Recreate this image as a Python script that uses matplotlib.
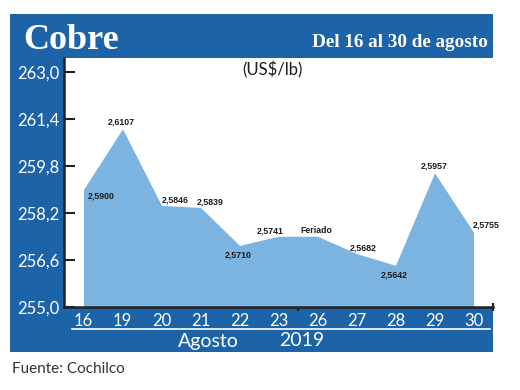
import matplotlib
matplotlib.use("Agg")
import matplotlib.pyplot as plt
from matplotlib.patches import Rectangle
from matplotlib.lines import Line2D
from matplotlib.ticker import FixedLocator, FuncFormatter
from matplotlib import font_manager

# ---- data ----
days = ["16", "19", "20", "21", "22", "23", "26", "27", "28", "29", "30"]
prices = [2.5900, 2.6107, 2.5846, 2.5839, 2.5710, 2.5741, 2.5741, 2.5682, 2.5642, 2.5957, 2.5755]
point_labels = ["2,5900", "2,6107", "2,5846", "2,5839", "2,5710", "2,5741", "Feriado",
                "2,5682", "2,5642", "2,5957", "2,5755"]
y_ticks = [255.0, 256.6, 258.2, 259.8, 261.4, 263.0]
scale = 100  # axis shows cents x 100

W, H = 520, 390
fig = plt.figure(figsize=(W / 100, H / 100), dpi=100)
fig.patch.set_facecolor("white")

def fx(px):
    return px / W

def fy(py):
    return 1 - py / H

BLUE = "#1d63a7"
AREA = "#7bb4e1"
sans = ["Lato", "DejaVu Sans"]
installed = {f.name for f in font_manager.fontManager.ttflist}
if "Liberation Sans Narrow" in installed:
    narrow = ["Liberation Sans Narrow", "DejaVu Sans"]
    nsize = 7
else:
    narrow = ["Liberation Sans", "DejaVu Sans"]
    nsize = 6.3

# frame
fig.add_artist(Rectangle((fx(10), fy(352)), fx(483), 338 / H, transform=fig.transFigure,
                         facecolor=BLUE, edgecolor="none", zorder=0))

# axes
ax = fig.add_axes([fx(64), fy(307), fx(429), 249 / H])
ax.set_facecolor("white")
x = list(range(len(days)))
yv = [p * scale for p in prices]
ax.fill_between(x, yv, 255.0, color=AREA, linewidth=0, zorder=2)
ax.set_xlim(-0.5, len(days) - 0.5)
ax.set_ylim(255.0, 263.48)

ax.yaxis.set_major_locator(FixedLocator(y_ticks))
ax.yaxis.set_major_formatter(FuncFormatter(lambda v, p: f"{v:.1f}".replace(".", ",")))
ax.tick_params(axis="y", direction="in", length=8, width=1.5, color="#222222",
               labelcolor="white", labelsize=12, pad=3)
for t in ax.get_yticklabels():
    t.set_family(sans)

ax.set_xticks(x)
ax.set_xticklabels(days)
ax.tick_params(axis="x", length=0, labelcolor="white", labelsize=12, pad=4)
for t in ax.get_xticklabels():
    t.set_family(sans)
ax.set_xticks([5.5, 10.5], minor=True)
ax.tick_params(axis="x", which="minor", direction="inout", length=6, width=1.5, color="#222222")

for s in ["top", "right"]:
    ax.spines[s].set_visible(False)
for s in ["left", "bottom"]:
    ax.spines[s].set_linewidth(1.8)
    ax.spines[s].set_color("#222222")

# point labels (offsets in points)
offsets = [(13, -5), (-1, 5), (10, 4), (7, 4), (-1, -7), (-6, 4), (-1, 4),
           (5, 4), (-1, -7), (0, 5), (9, 5)]
for i, (lab, (dx, dy)) in enumerate(zip(point_labels, offsets)):
    ax.annotate(lab, (x[i], yv[i]), xytext=(dx, dy), textcoords="offset points",
                ha="center", va="center", fontsize=nsize, fontweight="bold",
                family=narrow, color="#1a1a1a", zorder=5)

# titles
fig.text(fx(23), fy(49), "Cobre", color="white", fontsize=26, fontweight="bold",
         family=["Liberation Serif", "DejaVu Serif"], va="baseline", ha="left")
fig.text(fx(488), fy(47), "Del 16 al 30 de agosto", color="white", fontsize=13.8,
         fontweight="bold", family=["Liberation Serif", "DejaVu Serif"], va="baseline", ha="right")
fig.text(fx(272), fy(70), "(US$/lb)", color="#1a1a1a", fontsize=12, family=sans,
         ha="center", va="center")

# bottom band
fig.add_artist(Line2D([fx(72), fx(490)], [fy(329), fy(329)], transform=fig.transFigure,
                      color="white", linewidth=1.2))
fig.text(fx(208), fy(341), "Agosto", color="white", fontsize=14, family=sans,
         ha="center", va="center")
fig.text(fx(302), fy(341), "2019", color="white", fontsize=14, family=sans,
         ha="center", va="center")

fig.text(fx(12), fy(369), "Fuente: Cochilco", color="#333333", fontsize=11, family=sans,
         ha="left", va="center")

fig.savefig("out.png", dpi=100)
